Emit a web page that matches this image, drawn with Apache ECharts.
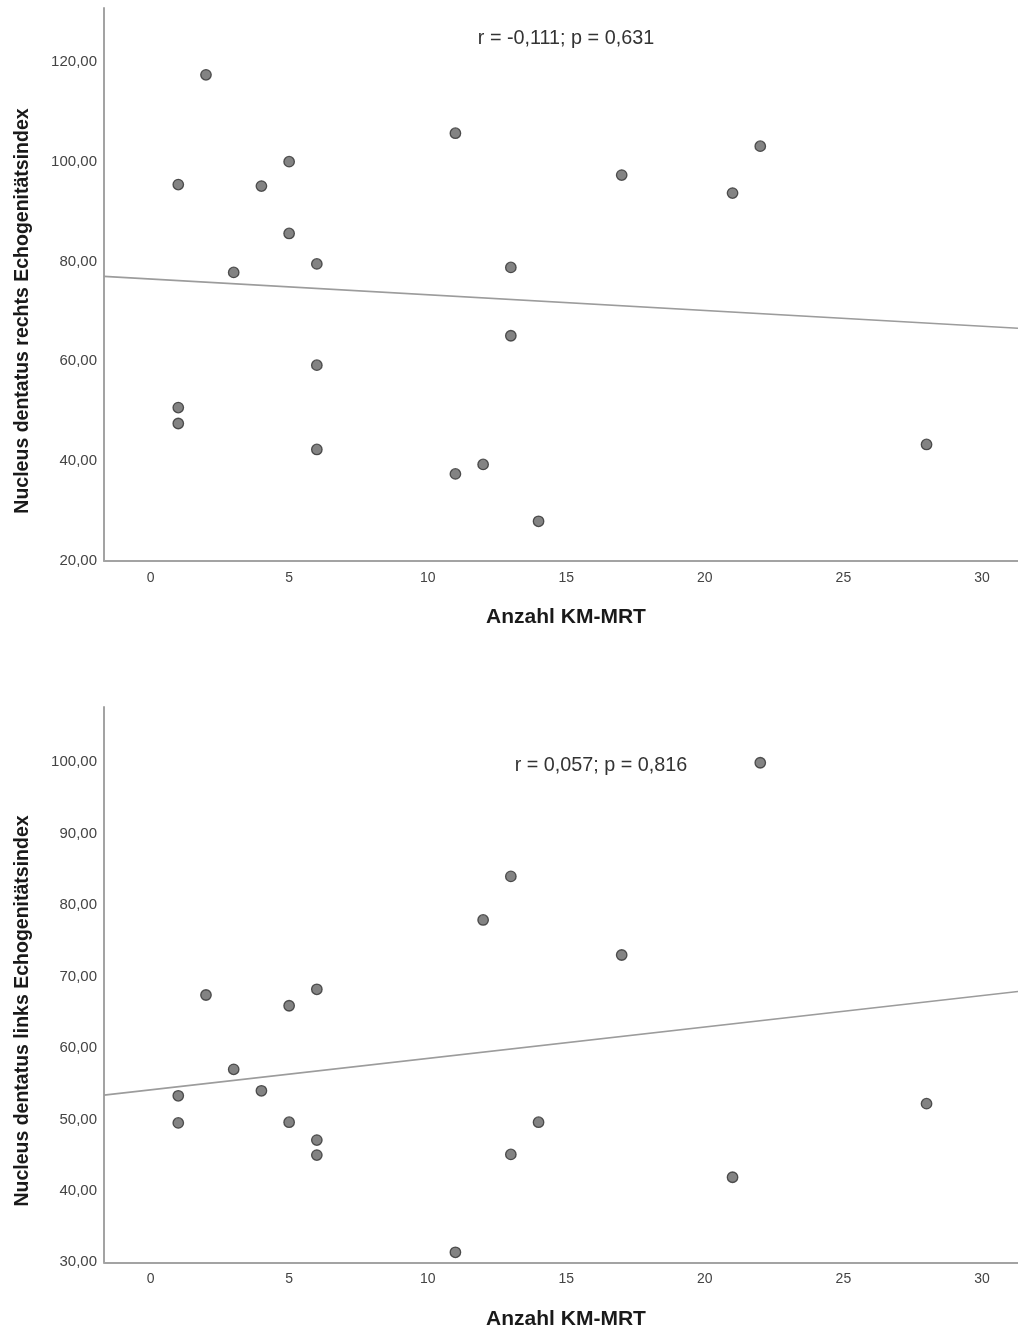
<!DOCTYPE html>
<html>
<head>
<meta charset="utf-8">
<script src="https://cdn.jsdelivr.net/npm/echarts@6/dist/echarts.min.js"></script>
<style>
html,body{margin:0;padding:0;background:#fff;}
#chart{width:1018px;height:1331px;}
</style>
</head>
<body>
<div id="chart"></div>
<script>
// Top chart: Nucleus dentatus rechts
const countRechts = [2, 1, 4, 5, 5, 3, 6, 11, 13, 17, 21, 22, 13, 6, 1, 1, 6, 11, 12, 14, 28];
const indexRechts = [117.4, 95.4, 95.1, 100.0, 85.6, 77.8, 79.5, 105.7, 78.8, 97.3, 93.7, 103.1, 65.1, 59.2, 50.7, 47.5, 42.3, 37.4, 39.3, 27.9, 43.3];
// Bottom chart: Nucleus dentatus links
const countLinks = [2, 5, 6, 12, 13, 22, 17, 3, 1, 4, 1, 5, 6, 6, 13, 11, 14, 21, 28];
const indexLinks = [67.4, 65.9, 68.2, 77.9, 84.0, 99.9, 73.0, 57.0, 53.3, 54.0, 49.5, 49.6, 47.1, 45.0, 45.1, 31.4, 49.6, 41.9, 52.2];

const xTicks = [0, 5, 10, 15, 20, 25, 30];
const yTicksRechts = [20, 40, 60, 80, 100, 120];
const yTicksLinks = [30, 40, 50, 60, 70, 80, 90, 100];

const statRechts = 'r = -0,111; p = 0,631';
const statLinks = 'r = 0,057; p = 0,816';
const xTitle = 'Anzahl KM-MRT';
const yTitleRechts = 'Nucleus dentatus rechts Echogenitätsindex';
const yTitleLinks = 'Nucleus dentatus links Echogenitätsindex';

const X_MIN = -1.68, X_MAX = 31.3;

function olsLine(xs, ys) {
  const n = xs.length;
  const mx = xs.reduce((a, b) => a + b, 0) / n;
  const my = ys.reduce((a, b) => a + b, 0) / n;
  let sxy = 0, sxx = 0;
  for (let i = 0; i < n; i++) { sxy += (xs[i] - mx) * (ys[i] - my); sxx += (xs[i] - mx) ** 2; }
  const b = sxy / sxx, a = my - b * mx;
  return [[X_MIN, a + b * X_MIN], [X_MAX, a + b * X_MAX]];
}
const pairs = (xs, ys) => xs.map((x, i) => [x, ys[i]]);

const FONT = "'Liberation Sans', Arial, sans-serif";
const axisLineStyle = { color: '#a3a3a3', width: 2 };
const fmt = v => v.toFixed(2).replace('.', ',');

function xAxis(gi) {
  return {
    type: 'value', gridIndex: gi, min: X_MIN, max: X_MAX,
    axisLine: { show: true, onZero: false, lineStyle: axisLineStyle },
    axisTick: { show: false },
    splitLine: { show: false },
    axisLabel: { customValues: xTicks, margin: 10, fontSize: 14, color: '#444', fontFamily: FONT },
    name: xTitle, nameLocation: 'middle', nameGap: 46,
    nameTextStyle: { fontSize: 21, fontWeight: 'bold', color: '#1a1a1a', fontFamily: FONT, padding: [0, 0, 0, 10] }
  };
}
function yAxis(gi, min, max, ticks) {
  return {
    type: 'value', gridIndex: gi, min: min, max: max,
    axisLine: { show: true, onZero: false, lineStyle: axisLineStyle },
    axisTick: { show: false },
    splitLine: { show: false },
    axisLabel: { customValues: ticks, formatter: fmt, margin: 7, fontSize: 15, color: '#444', fontFamily: FONT, padding: [6, 0, 0, 0] }
  };
}
const scatterStyle = { color: '#646464', borderColor: '#303030', borderWidth: 1.3 };
const lineStyle = { color: '#9c9c9c', width: 1.6 };

const chart = echarts.init(document.getElementById('chart'), null, { renderer: 'canvas' });
chart.setOption({
  animation: false,
  backgroundColor: '#fff',
  grid: [
    { left: 104, right: 0, top: 8, bottom: 770.3 },
    { left: 104, right: 0, top: 707, bottom: 68.7 }
  ],
  xAxis: [xAxis(0), xAxis(1)],
  yAxis: [yAxis(0, 20, 130.8, yTicksRechts), yAxis(1, 30, 107.7, yTicksLinks)],
  series: [
    { type: 'line', xAxisIndex: 0, yAxisIndex: 0, data: olsLine(countRechts, indexRechts), symbol: 'none', lineStyle: lineStyle, z: 1 },
    { type: 'scatter', xAxisIndex: 0, yAxisIndex: 0, data: pairs(countRechts, indexRechts), symbolSize: 10.5, itemStyle: scatterStyle, z: 2 },
    { type: 'line', xAxisIndex: 1, yAxisIndex: 1, data: olsLine(countLinks, indexLinks), symbol: 'none', lineStyle: lineStyle, z: 1 },
    { type: 'scatter', xAxisIndex: 1, yAxisIndex: 1, data: pairs(countLinks, indexLinks), symbolSize: 10.5, itemStyle: scatterStyle, z: 2 }
  ],
  graphic: [
    { type: 'text', x: 566, y: 39, style: { text: statRechts, fontSize: 19.8, fill: '#333', fontFamily: FONT, textAlign: 'center', textVerticalAlign: 'middle' } },
    { type: 'text', x: 601, y: 766, style: { text: statLinks, fontSize: 19.8, fill: '#333', fontFamily: FONT, textAlign: 'center', textVerticalAlign: 'middle' } },
    { type: 'text', x: 23, y: 311, rotation: Math.PI / 2, style: { text: yTitleRechts, fontSize: 19.5, fontWeight: 'bold', fill: '#1a1a1a', fontFamily: FONT, textAlign: 'center', textVerticalAlign: 'middle' } },
    { type: 'text', x: 23, y: 1011, rotation: Math.PI / 2, style: { text: yTitleLinks, fontSize: 19.5, fontWeight: 'bold', fill: '#1a1a1a', fontFamily: FONT, textAlign: 'center', textVerticalAlign: 'middle' } }
  ]
});
</script>
</body>
</html>
